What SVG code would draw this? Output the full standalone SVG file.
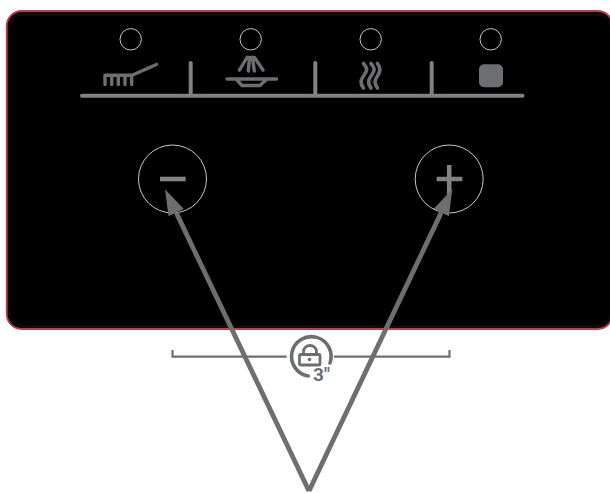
<svg xmlns="http://www.w3.org/2000/svg" width="610" height="493" viewBox="0 0 610 493">
<style>
.ring{fill:none;stroke:#c9c9c9;stroke-width:1}
.bar{fill:none;stroke:#808382;stroke-width:4;stroke-linecap:round}
.ico{fill:none;stroke:#6d6e71;stroke-width:3.4;stroke-linecap:round;stroke-linejoin:round}
.sym{fill:none;stroke:#808382;stroke-width:4.6}
.lk{fill:none;stroke:#6d6e71;stroke-width:2.8}
.arrow{fill:none;stroke:#6e6e6e;stroke-width:4.8;marker-end:url(#head)}
</style>
<defs>
<marker id="head" markerUnits="userSpaceOnUse" markerWidth="26" markerHeight="18" refX="0" refY="9" orient="auto">
<path d="M0,0.5L26,9L0,17.5Z" fill="#6e6e6e"/>
</marker>
</defs>
<rect width="610" height="493" fill="#fff"/>
<g id="panel">
<rect x="6.7" y="11" width="606" height="318" rx="15" fill="#0c0c0c" stroke="#b8404f" stroke-width="1.8"/>
<rect x="10" y="16" width="600" height="309" rx="12" fill="#000"/>
<path class="bar" d="M82,95.7H522.5M190.7,63V95.7M315.3,63V95.7M431.7,63V95.7"/>
</g>
<g id="led-1"><circle class="ring" cx="130.7" cy="39.3" r="10.7"/></g>
<g id="led-2"><circle class="ring" cx="250.7" cy="39.3" r="10.7"/></g>
<g id="led-3"><circle class="ring" cx="370.7" cy="39.3" r="10.7"/></g>
<g id="led-4"><circle class="ring" cx="490.7" cy="39.3" r="10.7"/></g>
<g id="icon-brush"><path class="ico" d="M156.5,64.5L132,75.3H105M105,75.3V84.5M111.7,75.3V84.5M118.3,75.3V84.5M125,75.3V84.5M131.7,75.3V84.5"/></g>
<g id="icon-spray"><path class="ico" d="M227,79H276.5M237,80L242,85.5H260L266,80M247,57.5H254.5L263,70M247,57.5L239.5,70M249.5,58L248.3,71M252.5,58L254.3,71"/></g>
<g id="icon-steam"><path class="ico" stroke-width="3.6" style="stroke-width:3.6" d="M363.5,63.5C368.5,69 366.5,72 363.5,76C360.5,80 360,84 363.5,88M371,63.5C376,69 374,72 371,76C368,80 367.5,84 371,88M377.5,63.5C381,68 380.5,72 377.5,76C374.5,80 374,84 377.5,88"/></g>
<g id="icon-stop"><rect x="479" y="64.3" width="24" height="23" rx="5" fill="#6d6e71"/></g>
<g id="button-minus">
<circle class="ring" cx="172.5" cy="179" r="34"/>
<path class="sym" d="M160,179H185.7"/>
</g>
<g id="button-plus">
<circle class="ring" cx="449.2" cy="179" r="34"/>
<path class="sym" d="M436.7,179H462.3M449.2,165V195"/>
</g>
<g id="lock-label">
<path class="lk" d="M172.5,350V356.7H286.7M334,356.7H449.5V350" style="stroke-width:2.2"/>
<path fill="none" stroke="#6d6e71" stroke-width="3.6" stroke-linecap="round" d="M330,363A19.8,19.8 0 1 0 308.3,376"/>
<rect class="lk" x="299.5" y="354.5" width="20.5" height="10.5" rx="1"/>
<path class="lk" d="M303.5,354.5V351.5A6.5,6 0 0 1 316.5,351.5V354.5"/>
<circle cx="309.5" cy="359.5" r="1.8" fill="#6d6e71"/>
<text x="313" y="381" font-family="Roboto, 'Liberation Sans', sans-serif" font-weight="700" font-size="19" fill="#6d6e71" textLength="17" lengthAdjust="spacingAndGlyphs">3"</text>
</g>
<g id="connectors">
<path class="arrow" d="M309,491L176.2,212.6"/>
<path class="arrow" d="M309,491L441.2,212.6"/>
</g>
</svg>
